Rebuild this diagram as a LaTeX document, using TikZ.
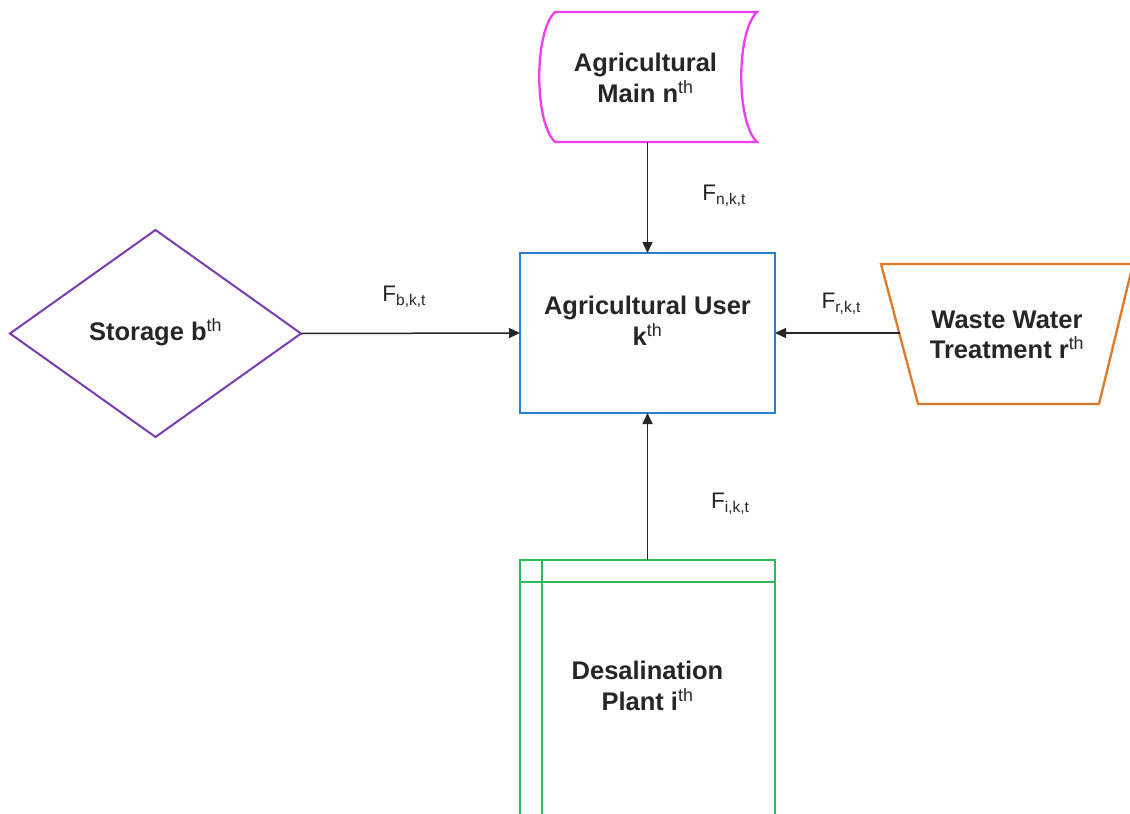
\documentclass[tikz,border=0pt]{standalone}
\usepackage{fontspec}
\setmainfont{Liberation Sans}
\usetikzlibrary{arrows.meta,shapes.geometric}

\definecolor{mainpink}{HTML}{F23CF2}
\definecolor{userblue}{HTML}{2A7FD0}
\definecolor{storepurple}{HTML}{7A3DB0}
\definecolor{wwtorange}{HTML}{E0792A}
\definecolor{desalgreen}{HTML}{2DB95A}
\definecolor{flowgray}{HTML}{262626}

% ordinal suffix and flow-index subscript
\newcommand\ordth{\textsuperscript{\mdseries th}}
\newcommand\flowidx[1]{\raisebox{-0.32ex}{\fontsize{15.5}{16}\selectfont #1}}

\tikzset{
  shapeline/.style={line width=2.3pt, line join=miter},
  nodetext/.style={font=\fontsize{25.5}{30.5}\selectfont\bfseries, text=black!85,
                   align=center, inner sep=0pt},
  flowlabel/.style={font=\fontsize{22.5}{24}\selectfont, text=black!85, inner sep=0pt},
  flow/.style={draw=flowgray, line width=1.5pt,
               -{Triangle[length=11pt,width=10pt]}},
}

\begin{document}
\begin{tikzpicture}[x=1pt,y=-1pt]
  \clip (0,0) rectangle (1130,814);
  \fill[white] (0,0) rectangle (1130,814);

  % Agricultural main (stored-data outline)
  \draw[shapeline, mainpink]
    (555,12) -- (757,12)
    .. controls (736,32) and (736,122) .. (757,142)
    -- (555,142)
    .. controls (534,122) and (534,32) .. (555,12) -- cycle;
  \node[nodetext] (main) at (645.5,78) {Agricultural\\Main n\ordth};
  \coordinate (mainbot) at (647.5,142);

  % Agricultural user
  \node[draw=userblue, line width=2.3pt, minimum width=255pt, minimum height=160pt,
        inner sep=0pt, outer sep=0pt] (user) at (647.5,333) {};
  \node[nodetext] (usertext) at (647.5,321) {Agricultural User\\k\ordth};

  % Storage
  \node[draw=storepurple, line width=2pt, shape=diamond, minimum width=291pt,
        minimum height=207pt, inner sep=0pt, outer sep=0pt] (storage) at (155.5,333.5) {};
  \node[nodetext] (storagetext) at (155.5,332) {Storage b\ordth};

  % Waste water treatment (inverted trapezium)
  \draw[shapeline, wwtorange]
    (881,264) -- (1133,264) -- (1099,404) -- (918,404) -- cycle;
  \node[nodetext] (wwt) at (1007,335) {Waste Water\\Treatment r\ordth};
  \coordinate (wwtleft) at (899.5,333);

  % Desalination plant
  \node[draw=desalgreen, line width=2.3pt, minimum width=255pt, minimum height=270pt,
        inner sep=0pt, outer sep=0pt, anchor=north] (desal) at (647.5,560) {};
  \draw[desalgreen, line width=2.3pt] (520,582) -- (775,582) (542,560) -- (542,830);
  \node[nodetext] (desaltext) at (647.5,686) {Desalination\\Plant i\ordth};

  % Flows into the user
  \draw[flow] (mainbot) -- (user.north);
  \draw[flow] (storage.east) -- (user.west);
  \draw[flow] (wwtleft) -- (user.east);
  \draw[flow] (desal.north) -- (user.south);

  % Flow labels
  \node[flowlabel] (fn) at (724,196) {F\flowidx{n,k,t}};
  \node[flowlabel] (fb) at (404,297) {F\flowidx{b,k,t}};
  \node[flowlabel] (fr) at (841,304) {F\flowidx{r,k,t}};
  \node[flowlabel] (fi) at (730,504) {F\flowidx{i,k,t}};
\end{tikzpicture}
\end{document}
